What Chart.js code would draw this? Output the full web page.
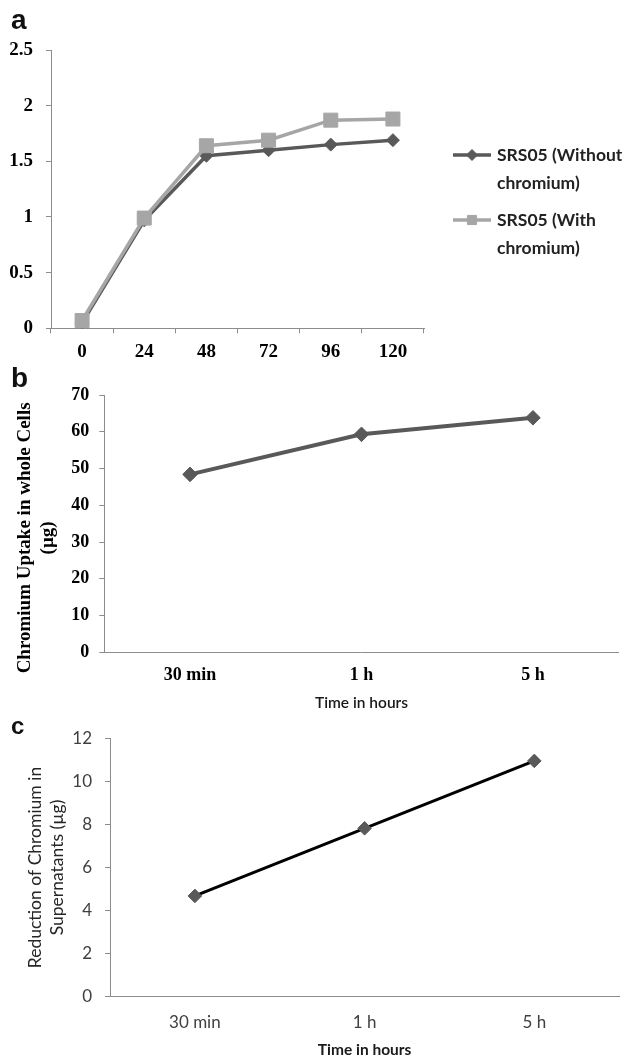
<!DOCTYPE html>
<html>
<head>
<meta charset="utf-8">
<script src="https://cdn.jsdelivr.net/npm/chart.js@4.4.1/dist/chart.umd.min.js"></script>
<style>
  html, body { margin: 0; padding: 0; background: #fff; }
  body { position: relative; width: 627px; height: 1058px; overflow: hidden; }
  canvas { position: absolute; left: 0; }
  .panel-label {
    position: absolute;
    left: 11px;
    font-family: 'Liberation Sans', Arial, sans-serif;
    font-weight: bold;
    line-height: 1;
    color: #111;
  }
</style>
</head>
<body>
<canvas id="chart-a" width="627" height="365" style="top:0"></canvas>
<canvas id="chart-b" width="627" height="360" style="top:360px"></canvas>
<canvas id="chart-c" width="627" height="350" style="top:715px"></canvas>
<div class="panel-label" style="top:6px;font-size:28px">a</div>
<div class="panel-label" style="top:364px;font-size:28px">b</div>
<div class="panel-label" style="top:714px;font-size:24px">c</div>

<script>
// panel a: growth over time (hours)
const hourLabels = ['0', '24', '48', '72', '96', '120'];
const withoutChromium = [0.05, 0.97, 1.55, 1.60, 1.65, 1.69];
const withChromium = [0.07, 0.99, 1.64, 1.69, 1.87, 1.88];
const seriesNames = [['SRS05 (Without', 'chromium)'], ['SRS05 (With', 'chromium)']];

// panels b and c share the time categories
const timeLabels = ['30 min', '1 h', '5 h'];
const uptakeWholeCells = [48.4, 59.3, 63.8];
const reductionSupernatant = [4.68, 7.82, 10.95];

const COLORS = {
  dark: '#595959',
  light: '#a6a6a6',
  axis: '#8c8c8c',
  black: '#000000'
};

const SERIF = "'Liberation Serif', 'Times New Roman', serif";
const SANS = "Lato, 'Noto Sans', sans-serif";

Chart.defaults.animation = false;
Chart.defaults.responsive = false;
Chart.defaults.plugins.legend.display = false;
Chart.defaults.plugins.tooltip.enabled = false;

function fixWidth(w) {
  return (scale) => { scale.width = w; };
}

function fixHeight(h) {
  return (scale) => { scale.height = h; };
}

// plain numbers on the axis: 1 and 2, not 1.0 and 2.0
const plainNumber = (value) => String(value);

// legend drawn to the right of panel a, two-line labels
const sideLegend = {
  id: 'sideLegend',
  afterDraw(chart) {
    const ctx = chart.ctx;
    const x0 = 453;
    const x1 = 491;
    const rowTops = [155, 220];
    ctx.save();
    chart.data.datasets.forEach((ds, i) => {
      const y = rowTops[i];
      ctx.strokeStyle = ds.borderColor;
      ctx.lineWidth = ds.borderWidth;
      ctx.beginPath();
      ctx.moveTo(x0, y);
      ctx.lineTo(x1, y);
      ctx.stroke();
      ctx.fillStyle = ds.pointBackgroundColor;
      ctx.strokeStyle = ds.pointBackgroundColor;
      ctx.lineWidth = 1;
      Chart.helpers.drawPoint(ctx, {
        pointStyle: ds.pointStyle,
        radius: ds.pointStyle === 'rect' ? 6.5 : 5.5,
        rotation: 0,
        borderWidth: 1
      }, (x0 + x1) / 2, y);
      ctx.fillStyle = '#222';
      ctx.font = `bold 17.5px ${SANS}`;
      ctx.textBaseline = 'middle';
      ctx.textAlign = 'left';
      seriesNames[i].forEach((line, j) => {
        ctx.fillText(line, 497, y + j * 28.5);
      });
    });
    ctx.restore();
  }
};

new Chart(document.getElementById('chart-a'), {
  type: 'line',
  data: {
    labels: hourLabels,
    datasets: [
      {
        label: seriesNames[0].join(' '),
        data: withoutChromium,
        order: 1,
        borderColor: COLORS.dark,
        borderWidth: 3.5,
        pointStyle: 'rectRot',
        pointRadius: 6.5,
        pointBackgroundColor: COLORS.dark,
        pointBorderColor: COLORS.dark,
        pointBorderWidth: 1,
        tension: 0
      },
      {
        label: seriesNames[1].join(' '),
        data: withChromium,
        order: 0,
        borderColor: COLORS.light,
        borderWidth: 3.5,
        pointStyle: 'rect',
        pointRadius: 9.9,
        pointBackgroundColor: COLORS.light,
        pointBorderColor: COLORS.light,
        pointBorderWidth: 1,
        tension: 0
      }
    ]
  },
  options: {
    layout: { padding: { top: 50, right: 203, bottom: 0, left: 0 } },
    scales: {
      x: {
        offset: true,
        grid: { drawOnChartArea: false, tickLength: 5, color: COLORS.axis, offset: true },
        border: { color: COLORS.axis, width: 1 },
        ticks: { color: COLORS.black, padding: 7, font: { family: SERIF, weight: 'bold', size: 19 } },
        afterFit: fixHeight(36.7)
      },
      y: {
        min: 0,
        max: 2.5,
        grid: { drawOnChartArea: false, tickLength: 5, color: COLORS.axis },
        border: { color: COLORS.axis, width: 1 },
        ticks: {
          stepSize: 0.5,
          callback: plainNumber,
          color: COLORS.black,
          padding: 13,
          font: { family: SERIF, weight: 'bold', size: 19 }
        },
        afterFit: fixWidth(51)
      }
    }
  },
  plugins: [sideLegend]
});

// pad the y title so it sits a little below the plot centre, as in the figure
const titlePad = '\u00a0'.repeat(6);

new Chart(document.getElementById('chart-b'), {
  type: 'line',
  data: {
    labels: timeLabels,
    datasets: [{
      label: 'Chromium uptake',
      data: uptakeWholeCells,
      borderColor: COLORS.dark,
      borderWidth: 4,
      pointStyle: 'rectRot',
      pointRadius: 7.3,
      pointBackgroundColor: COLORS.dark,
      pointBorderColor: COLORS.dark,
      pointBorderWidth: 1,
      tension: 0
    }]
  },
  options: {
    layout: { padding: { top: 35, right: 3, bottom: 0, left: 0 } },
    scales: {
      x: {
        offset: true,
        grid: { display: false, drawTicks: false },
        border: { color: COLORS.axis, width: 1 },
        ticks: { color: COLORS.black, padding: 12, font: { family: SERIF, weight: 'bold', size: 18 } },
        title: {
          display: true,
          text: 'Time in hours',
          color: '#1a1a1a',
          font: { family: SANS, size: 15.5, weight: '600', lineHeight: 1.2 },
          padding: { top: 0, bottom: 8 }
        },
        afterFit: fixHeight(67.7)
      },
      y: {
        min: 0,
        max: 70,
        grid: { drawOnChartArea: false, tickLength: 5, color: COLORS.axis },
        border: { color: COLORS.axis, width: 1 },
        ticks: { stepSize: 10, color: COLORS.black, padding: 10, font: { family: SERIF, weight: 'bold', size: 18 } },
        title: {
          display: true,
          text: ['Chromium Uptake in whole Cells' + titlePad, '(µg)' + titlePad],
          color: COLORS.black,
          font: { family: SERIF, size: 19, weight: 'bold', lineHeight: 1.21 },
          padding: { top: 13.5, bottom: 0 }
        },
        afterFit: fixWidth(104.3)
      }
    }
  }
});

new Chart(document.getElementById('chart-c'), {
  type: 'line',
  data: {
    labels: timeLabels,
    datasets: [{
      label: 'Reduction of chromium',
      data: reductionSupernatant,
      borderColor: COLORS.black,
      borderWidth: 3,
      pointStyle: 'rectRot',
      pointRadius: 6.8,
      pointBackgroundColor: COLORS.dark,
      pointBorderColor: COLORS.dark,
      pointBorderWidth: 1,
      tension: 0
    }]
  },
  options: {
    layout: { padding: { top: 23.3, right: 2, bottom: 0, left: 0 } },
    scales: {
      x: {
        offset: true,
        grid: { display: false, drawTicks: false },
        border: { color: COLORS.axis, width: 1 },
        ticks: { color: '#404040', padding: 15.8, font: { family: SANS, size: 17 } },
        title: {
          display: true,
          text: 'Time in hours',
          color: '#1a1a1a',
          font: { family: SANS, size: 15.5, weight: 'bold', lineHeight: 1.2 },
          padding: { top: 0, bottom: 6 }
        },
        afterFit: fixHeight(68.3)
      },
      y: {
        min: 0,
        max: 12,
        grid: { drawOnChartArea: false, tickLength: 5, color: COLORS.axis },
        border: { color: COLORS.axis, width: 1 },
        ticks: { stepSize: 2, color: '#404040', padding: 13, font: { family: SANS, size: 17 } },
        title: {
          display: true,
          text: ['Reduction of Chromium in', 'Supernatants (µg)'],
          color: '#262626',
          font: { family: SANS, size: 17.5, lineHeight: 1.257 },
          padding: { top: 24, bottom: 0 }
        },
        afterFit: fixWidth(110)
      }
    }
  }
});
</script>
</body>
</html>
